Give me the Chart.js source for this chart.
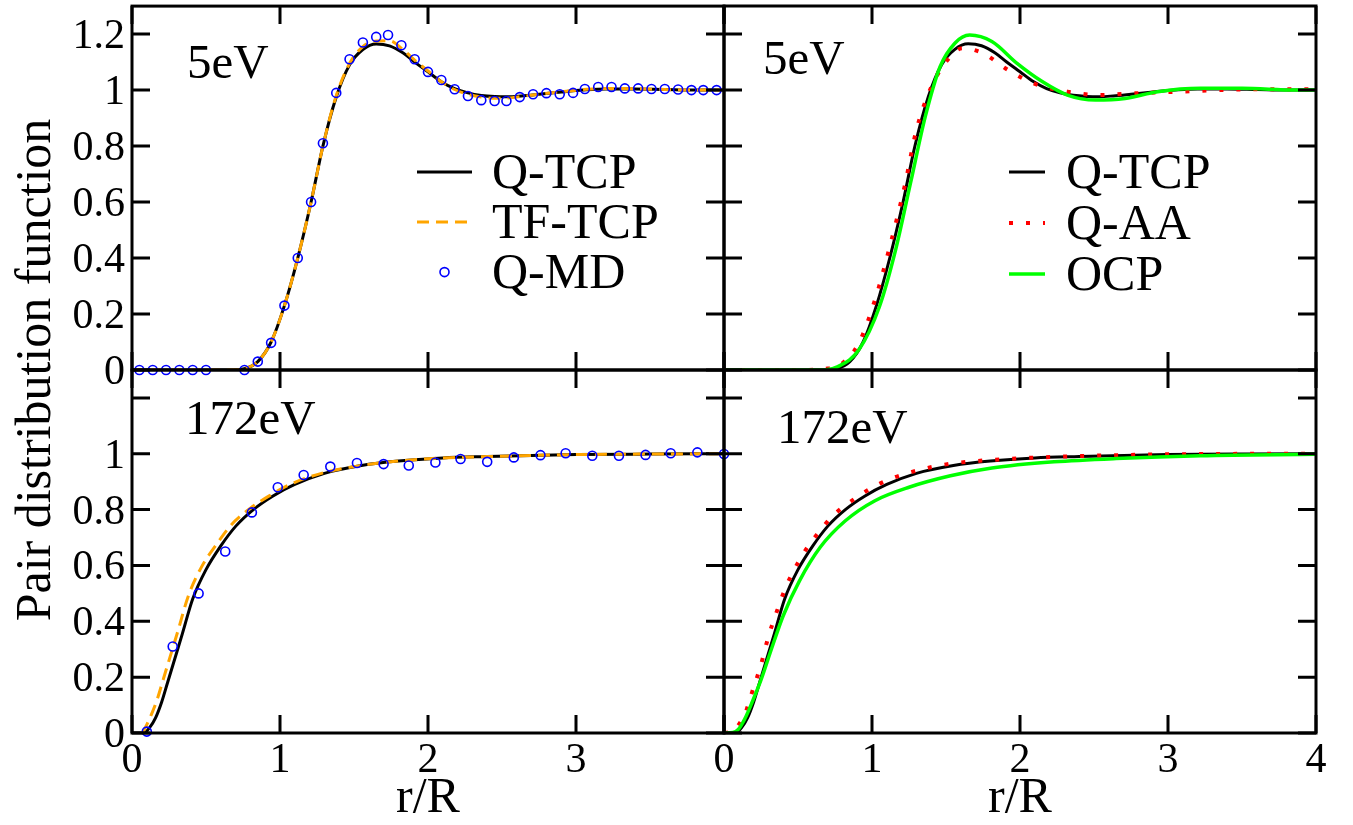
<!DOCTYPE html>
<html>
<head>
<meta charset="utf-8">
<script src="https://cdn.jsdelivr.net/npm/chart.js@4.4.0/dist/chart.umd.min.js"></script>
<style>
html, body { margin: 0; padding: 0; background: #fff; }
#wrap { position: relative; width: 1353px; height: 825px; }
#wrap canvas { position: absolute; left: 0; top: 0; }
#labels { position: absolute; left: 0; top: 0; width: 1353px; height: 825px; pointer-events: none; }
.lbl { position: absolute; white-space: nowrap; line-height: 1; color: #000;
       font-family: 'Liberation Serif', 'Times New Roman', serif; }
</style>
</head>
<body>
<div id="wrap">
  <canvas id="tl" width="1353" height="825"></canvas>
  <canvas id="tr" width="1353" height="825"></canvas>
  <canvas id="bl" width="1353" height="825"></canvas>
  <canvas id="br" width="1353" height="825"></canvas>
  <div id="labels"></div>
</div>
<script>
// TICKS

const xTicks = [0, 1, 2, 3, 4];
const xLabelsLeft = ['0', '1', '2', '3', ''];
const xLabelsRight = ['0', '1', '2', '3', '4'];
const yTicks = [0, 0.2, 0.4, 0.6, 0.8, 1, 1.2];
const yLabelsTop = ['0', '0.2', '0.4', '0.6', '0.8', '1', '1.2'];
const yLabelsBottom = ['0', '0.2', '0.4', '0.6', '0.8', '1', ''];


// 5eV

const tcp5X = [0, 0.5, 0.65, 0.76, 0.85, 0.94, 1.03, 1.12, 1.21, 1.29, 1.38, 1.47, 1.56, 1.65, 1.74, 1.83, 1.91, 2.0, 2.09, 2.18, 2.27, 2.36, 2.45, 2.54, 2.63, 2.75, 2.9, 3.05, 3.2, 3.4, 3.6, 3.8, 4.0];
const tcp5Y = [0, 0, 0, 0.005, 0.03, 0.1, 0.23, 0.40, 0.60, 0.80, 0.975, 1.09, 1.145, 1.165, 1.158, 1.133, 1.10, 1.065, 1.03, 1.005, 0.99, 0.981, 0.977, 0.976, 0.979, 0.985, 0.993, 1.0, 1.004, 1.004, 1.002, 1.0, 1.0];
const tf5Y = [0, 0, 0, 0.005, 0.03, 0.1, 0.23, 0.40, 0.60, 0.80, 0.98, 1.095, 1.155, 1.175, 1.176, 1.145, 1.107, 1.068, 1.03, 1.002, 0.985, 0.975, 0.971, 0.972, 0.977, 0.985, 0.994, 1.002, 1.006, 1.005, 1.002, 1.0, 1.0];

const md5X = [0.05, 0.14, 0.23, 0.32, 0.41, 0.50, 0.76, 0.85, 0.94, 1.03, 1.12, 1.21, 1.29, 1.38, 1.47, 1.56, 1.65, 1.73, 1.82, 1.91, 2.0, 2.09, 2.18, 2.27, 2.36, 2.45, 2.53, 2.62, 2.71, 2.80, 2.89, 2.98, 3.06, 3.15, 3.24, 3.33, 3.42, 3.51, 3.60, 3.69, 3.78, 3.86, 3.95];
const md5Y = [0, 0, 0, 0, 0, 0, 0, 0.03, 0.097, 0.23, 0.40, 0.60, 0.81, 0.99, 1.11, 1.17, 1.19, 1.197, 1.16, 1.11, 1.065, 1.036, 1.003, 0.979, 0.964, 0.961, 0.961, 0.975, 0.985, 0.989, 0.985, 0.99, 1.004, 1.011, 1.011, 1.006, 1.006, 1.004, 1.004, 1.002, 1.0, 1.0, 1.0];

const aa5X = [0, 0.5, 0.7, 0.80, 0.91, 1.02, 1.12, 1.22, 1.30, 1.40, 1.51, 1.61, 1.75, 1.92, 2.09, 2.32, 2.54, 2.77, 3.08, 3.50, 4.0];
const aa5Y = [0, 0, 0.005, 0.024, 0.095, 0.25, 0.44, 0.655, 0.857, 1.01, 1.107, 1.149, 1.131, 1.071, 1.024, 0.994, 0.982, 0.988, 0.994, 1.002, 1.003];

const ocp5X = [0, 0.5, 0.68, 0.77, 0.91, 1.05, 1.16, 1.26, 1.36, 1.46, 1.56, 1.66, 1.81, 1.98, 2.15, 2.32, 2.51, 2.71, 2.93, 3.22, 3.50, 3.86, 4.0];
const ocp5Y = [0, 0, 0, 0.012, 0.071, 0.226, 0.43, 0.667, 0.905, 1.083, 1.167, 1.196, 1.173, 1.095, 1.03, 0.982, 0.964, 0.97, 0.994, 1.006, 1.006, 1.0, 1.0];


// 172eV

const tcp172X = [0, 0.08, 0.12, 0.16, 0.20, 0.24, 0.28, 0.34, 0.41, 0.50, 0.60, 0.70, 0.82, 0.95, 1.10, 1.30, 1.55, 1.80, 2.10, 2.40, 2.70, 3.00, 3.50, 4.00];
const tcp172Y = [0, 0, 0.02, 0.055, 0.11, 0.18, 0.25, 0.355, 0.48, 0.585, 0.67, 0.74, 0.80, 0.848, 0.89, 0.93, 0.958, 0.974, 0.985, 0.99, 0.994, 0.997, 0.999, 1.0];

const tf172X = [0.07, 0.10, 0.13, 0.17, 0.21, 0.25, 0.31, 0.38, 0.47, 0.57, 0.67, 0.80, 0.93, 1.08, 1.30, 1.55, 1.80, 2.10, 2.40, 2.70, 3.00, 3.50, 4.00];
const tf172Y = [0, 0.03, 0.065, 0.12, 0.19, 0.26, 0.365, 0.49, 0.595, 0.675, 0.745, 0.805, 0.85, 0.893, 0.933, 0.958, 0.974, 0.985, 0.99, 0.994, 0.997, 0.999, 1.0];

const md172X = [0.10, 0.275, 0.45, 0.63, 0.81, 0.985, 1.16, 1.34, 1.52, 1.70, 1.87, 2.05, 2.22, 2.40, 2.58, 2.76, 2.93, 3.11, 3.29, 3.47, 3.64, 3.82, 4.0];
const md172Y = [0.005, 0.31, 0.50, 0.65, 0.79, 0.88, 0.924, 0.954, 0.967, 0.963, 0.958, 0.969, 0.981, 0.971, 0.987, 0.995, 1.002, 0.993, 0.993, 0.996, 1.002, 1.005, 0.999];

const aa172X = [0, 0.05, 0.10, 0.15, 0.18, 0.25, 0.30, 0.36, 0.42, 0.50, 0.57, 0.65, 0.72, 0.88, 1.06, 1.27, 1.50, 1.81, 2.23, 2.65, 3.20, 4.0];
const aa172Y = [0, 0.005, 0.03, 0.08, 0.13, 0.245, 0.345, 0.44, 0.525, 0.61, 0.67, 0.725, 0.77, 0.838, 0.895, 0.935, 0.962, 0.978, 0.989, 0.995, 0.999, 1.0];

const ocp172X = [0, 0.06, 0.10, 0.14, 0.19, 0.25, 0.32, 0.40, 0.51, 0.65, 0.82, 1.02, 1.25, 1.53, 1.81, 2.23, 2.65, 3.22, 4.0];
const ocp172Y = [0, 0.002, 0.015, 0.05, 0.11, 0.19, 0.30, 0.42, 0.545, 0.665, 0.76, 0.832, 0.88, 0.921, 0.949, 0.971, 0.983, 0.993, 0.998];


// LAYOUT

const W = 1353, H = 825;
const layer = document.getElementById('labels');

const pts = (xs, ys) => xs.map((x, i) => ({ x: x, y: ys[i] }));

function lineSet(label, xs, ys, color, width, dash, order) {
    return {
        label: label,
        data: pts(xs, ys),
        borderColor: color,
        borderWidth: width,
        borderDash: dash || [],
        pointRadius: 0,
        cubicInterpolationMode: 'monotone',
        fill: false,
        order: order
    };
}

function dotSet(label, xs, ys, order) {
    return {
        label: label,
        data: pts(xs, ys),
        showLine: false,
        pointRadius: 4.5,
        pointBorderWidth: 1.6,
        pointBorderColor: '#0000ff',
        pointBackgroundColor: 'rgba(0,0,0,0)',
        borderColor: '#0000ff',
        clip: 8,
        order: order
    };
}


// TEXT AS PAGE ELEMENTS (serif face renders reliably there)
// line-height 1: box centre = canvas "middle", baseline 0.8375em below top

function addText(s, x, y, size, align, baseline) {
    if (!s) return;
    const el = document.createElement('span');
    el.className = 'lbl';
    el.textContent = s;
    el.style.fontSize = size + 'px';
    el.style.left = x + 'px';
    el.style.top = (baseline === 'middle' ? y - size / 2 : y - 0.8375 * size) + 'px';
    const tx = align === 'right' ? '-100%' : (align === 'center' ? '-50%' : '0');
    el.style.transform = 'translateX(' + tx + ')';
    layer.appendChild(el);
}

function addYTitle(s, cx, cy, size) {
    const el = document.createElement('span');
    el.className = 'lbl';
    el.textContent = s;
    el.style.fontSize = size + 'px';
    el.style.left = cx + 'px';
    el.style.top = cy + 'px';
    el.style.transform = 'translate(-50%, -50%) rotate(-90deg)';
    layer.appendChild(el);
}


// FRAME WITH INWARD TICKS

const framePlugin = {
    id: 'frame',
    afterDraw(chart) {
        const { ctx, chartArea: a } = chart;
        const sx = chart.scales.x, sy = chart.scales.y;
        const len = 18;
        ctx.save();
        ctx.strokeStyle = '#000';
        ctx.lineWidth = 3;
        ctx.beginPath();
        xTicks.forEach(v => {
            const px = sx.getPixelForValue(v);
            ctx.moveTo(px, a.bottom); ctx.lineTo(px, a.bottom - len);
            ctx.moveTo(px, a.top); ctx.lineTo(px, a.top + len);
        });
        yTicks.forEach(v => {
            const py = sy.getPixelForValue(v);
            ctx.moveTo(a.left, py); ctx.lineTo(a.left + len, py);
            ctx.moveTo(a.right, py); ctx.lineTo(a.right - len, py);
        });
        ctx.stroke();
        ctx.strokeRect(a.left, a.top, a.right - a.left, a.bottom - a.top);
        ctx.restore();
    }
};


// LEGEND SAMPLES

const legendPlugin = {
    id: 'panelLegend',
    afterDraw(chart, args, opts) {
        const { ctx, chartArea: a } = chart;
        (opts.items || []).forEach((idx, i) => {
            const ds = chart.data.datasets[idx];
            const y = a.top + opts.y + i * opts.dy;
            const x1 = a.left + opts.x1, x2 = a.left + opts.x2;
            ctx.save();
            ctx.beginPath();
            if (ds.showLine === false) {
                ctx.lineWidth = ds.pointBorderWidth;
                ctx.strokeStyle = ds.pointBorderColor;
                ctx.arc((x1 + x2) / 2, y, ds.pointRadius, 0, Math.PI * 2);
            } else {
                ctx.lineWidth = ds.borderWidth;
                ctx.strokeStyle = ds.borderColor;
                ctx.setLineDash(ds.borderDash);
                ctx.moveTo(x1, y);
                ctx.lineTo(x2, y);
            }
            ctx.stroke();
            ctx.restore();
        });
    }
};


function panel(id, area, datasets, opt) {
    const chart = new Chart(document.getElementById(id), {
        type: 'line',
        data: { datasets: datasets },
        options: {
            responsive: false,
            animation: false,
            devicePixelRatio: 1,
            events: [],
            layout: {
                padding: { left: area.l, top: area.t, right: W - area.r, bottom: H - area.b }
            },
            plugins: {
                legend: { display: false },
                tooltip: { enabled: false },
                panelLegend: opt.legend
            },
            scales: {
                x: {
                    type: 'linear',
                    min: 0,
                    max: 4,
                    afterBuildTicks: s => { s.ticks = xTicks.map(v => ({ value: v })); },
                    afterFit: s => {
                        s.height = 0;
                        s.paddingLeft = s.paddingRight = s.paddingTop = s.paddingBottom = 0;
                    },
                    grid: { display: false, drawTicks: false },
                    border: { display: false },
                    ticks: { display: false }
                },
                y: {
                    min: 0,
                    max: 1.3,
                    afterBuildTicks: s => { s.ticks = yTicks.map(v => ({ value: v })); },
                    afterFit: s => {
                        s.width = 0;
                        s.paddingLeft = s.paddingRight = s.paddingTop = s.paddingBottom = 0;
                    },
                    grid: { display: false, drawTicks: false },
                    border: { display: false },
                    ticks: { display: false }
                }
            }
        },
        plugins: [framePlugin, legendPlugin]
    });

    // labels placed from the chart's own scales
    const a = chart.chartArea;
    const sx = chart.scales.x, sy = chart.scales.y;

    if (opt.yLabels) {
        yTicks.forEach((v, i) => addText(opt.yLabels[i], a.left - 7, sy.getPixelForValue(v), 42, 'right', 'middle'));
    }
    if (opt.xLabels) {
        xTicks.forEach((v, i) => addText(opt.xLabels[i], sx.getPixelForValue(v), a.bottom + 25, 42, 'center', 'middle'));
        addText('r/R', (a.left + a.right) / 2, a.bottom + 62, 50, 'center', 'middle');
    }
    if (opt.yTitle) {
        addYTitle(opt.yTitle, a.left - 99, a.top, 50);
    }
    addText(opt.tag, a.left + opt.tagX, a.top + opt.tagY, 49, 'left', 'alphabetic');

    const lg = opt.legend;
    (lg.items || []).forEach((idx, i) => {
        addText(datasets[idx].label, a.left + lg.tx, a.top + lg.y + i * lg.dy - 1, 50, 'left', 'middle');
    });
}


// TOP LEFT: 5eV, TCP vs MD

panel('tl', { l: 132, t: 6, r: 724, b: 370 }, [
    lineSet('Q-TCP', tcp5X, tcp5Y, '#000000', 3, [], 3),
    lineSet('TF-TCP', tcp5X, tf5Y, '#ffa500', 3, [12, 7], 2),
    dotSet('Q-MD', md5X, md5Y, 1)
], {
    yLabels: yLabelsTop,
    tag: '5eV', tagX: 55, tagY: 72,
    legend: { items: [0, 1, 2], x1: 285, x2: 340, tx: 360, y: 166, dy: 50 }
});

// TOP RIGHT: 5eV, TCP vs AA vs OCP

panel('tr', { l: 724, t: 6, r: 1316, b: 370 }, [
    lineSet('Q-TCP', tcp5X, tcp5Y, '#000000', 3, [], 3),
    lineSet('Q-AA', aa5X, aa5Y, '#ff0000', 4, [4, 13], 2),
    lineSet('OCP', ocp5X, ocp5Y, '#00ff00', 3.5, [], 1)
], {
    tag: '5eV', tagX: 39, tagY: 68,
    legend: { items: [0, 1, 2], x1: 285, x2: 321, tx: 342, y: 166, dy: 51 }
});

// BOTTOM LEFT: 172eV

panel('bl', { l: 132, t: 370, r: 724, b: 733 }, [
    lineSet('Q-TCP', tcp172X, tcp172Y, '#000000', 3, [], 3),
    lineSet('TF-TCP', tf172X, tf172Y, '#ffa500', 3, [12, 7], 2),
    dotSet('Q-MD', md172X, md172Y, 1)
], {
    xLabels: xLabelsLeft,
    yLabels: yLabelsBottom,
    tag: '172eV', tagX: 53, tagY: 64,
    legend: { items: [] },
    yTitle: 'Pair distribution function'
});

// BOTTOM RIGHT: 172eV

panel('br', { l: 724, t: 370, r: 1316, b: 733 }, [
    lineSet('Q-TCP', tcp172X, tcp172Y, '#000000', 3, [], 3),
    lineSet('Q-AA', aa172X, aa172Y, '#ff0000', 4, [4, 13], 2),
    lineSet('OCP', ocp172X, ocp172Y, '#00ff00', 3.5, [], 1)
], {
    xLabels: xLabelsRight,
    tag: '172eV', tagX: 53, tagY: 73,
    legend: { items: [] }
});
</script>
</body>
</html>
